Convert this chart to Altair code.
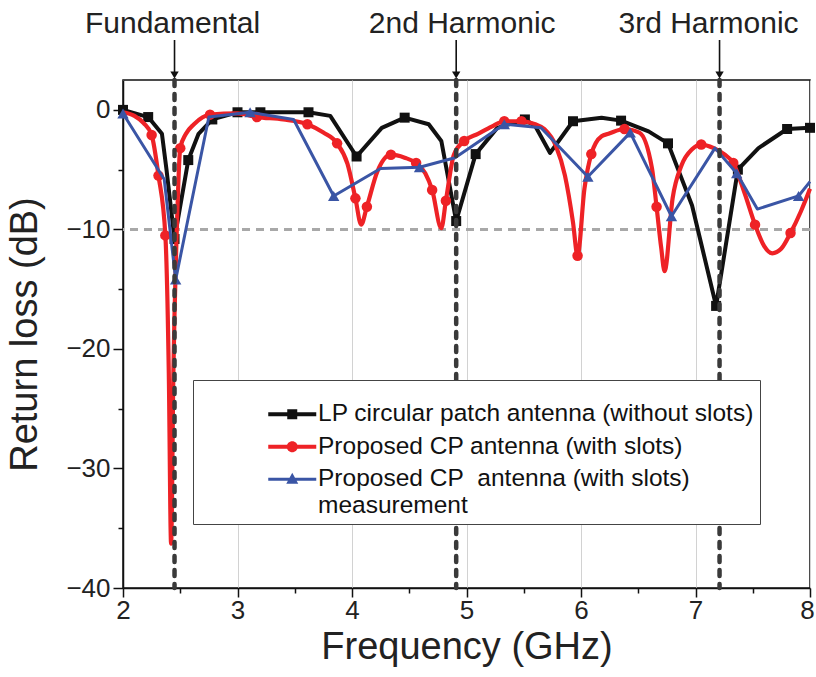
import altair as alt
import pandas as pd

# ---------------- data ----------------
lp_freq = [2.00, 2.22, 2.34, 2.38, 2.45, 2.57, 2.66, 2.78, 3.00, 3.20, 3.62, 3.81, 4.04, 4.26,
           4.46, 4.67, 4.78, 4.91, 5.08, 5.27, 5.51, 5.60, 5.73, 5.93, 6.18, 6.35, 6.59, 6.76,
           6.97, 7.18, 7.37, 7.55, 7.80, 8.00]
lp_rl = [0.0, -0.6, -2.0, -5.0, -10.8, -4.2, -2.0, -0.8, -0.2, -0.2, -0.2, -0.5, -3.9, -1.5,
         -0.65, -1.2, -2.6, -9.3, -3.7, -1.5, -0.8, -1.35, -3.6, -0.95, -0.65, -0.9, -1.8, -2.8,
         -8.0, -16.4, -5.0, -3.2, -1.6, -1.5]
lp_marker = [1, 1, 0, 0, 1, 1, 0, 1, 1, 1, 1, 0, 1, 0, 1, 0, 0, 1, 1, 0, 1, 0, 0, 1, 0, 1, 0, 1,
             0, 1, 1, 0, 1, 1]

cp_freq = [2.00, 2.10, 2.18, 2.25, 2.31, 2.37, 2.40, 2.42, 2.44, 2.47, 2.50, 2.55, 2.62, 2.76,
           3.00, 3.17, 3.40, 3.61, 3.75, 3.87, 3.96, 4.03, 4.08, 4.13, 4.22, 4.34, 4.46, 4.56,
           4.64, 4.70, 4.78, 4.82, 4.89, 4.98, 5.10, 5.22, 5.33, 5.48, 5.60, 5.68, 5.78, 5.86,
           5.93, 5.97, 6.03, 6.09, 6.18, 6.24, 6.38, 6.51, 6.62, 6.66, 6.70, 6.73, 6.80, 6.88,
           6.97, 7.05, 7.16, 7.25, 7.33, 7.43, 7.52, 7.60, 7.67, 7.75, 7.83, 7.92, 8.00]
cp_rl = [-0.2, -0.5, -1.1, -2.1, -5.5, -10.5, -22.0, -36.3, -22.0, -10.0, -3.2, -2.0, -1.2, -0.4,
         -0.3, -0.6, -0.8, -1.2, -1.9, -2.8, -4.5, -7.4, -9.6, -8.1, -5.2, -3.75, -4.0, -4.45,
         -5.3, -6.7, -9.9, -7.6, -3.75, -2.6, -2.0, -1.4, -0.95, -0.95, -1.2, -1.6, -3.0, -5.5,
         -9.4, -12.2, -6.6, -3.7, -2.2, -2.0, -1.6, -1.9, -4.9, -8.1, -11.5, -13.5, -7.4, -4.6,
         -3.3, -2.9, -3.2, -3.7, -4.45, -7.0, -9.6, -11.4, -12.0, -11.6, -10.3, -8.5, -6.6]
cp_marker = [0, 0, 0, 1, 1, 1, 0, 0, 0, 0, 1, 0, 0, 1,
             0, 1, 0, 1, 0, 1, 0, 1, 0, 1, 0, 1, 0, 1,
             0, 1, 0, 1, 0, 1, 0, 0, 1, 1, 0, 0, 0, 0,
             0, 1, 0, 1, 0, 0, 1, 0, 0, 1, 0, 0, 0, 0,
             0, 1, 0, 0, 1, 0, 1, 0, 0, 0, 1, 0, 0]

ms_freq = [2.00, 2.36, 2.46, 2.75, 3.11, 3.49, 3.84, 4.25, 4.59, 4.90, 5.33, 5.65, 6.06, 6.43,
           6.79, 7.17, 7.36, 7.54, 7.90, 8.00]
ms_rl = [-0.3, -5.8, -14.2, -0.6, -0.2, -0.8, -7.2, -4.9, -4.8, -4.0, -1.2, -1.5, -5.6, -1.9,
         -8.9, -3.2, -5.3, -8.3, -7.2, -6.0]
ms_marker = [1, 0, 1, 0, 1, 0, 1, 0, 1, 0, 1, 0, 1, 1, 1, 0, 1, 0, 1, 0]

series_names = ["LP circular patch antenna (without slots)",
                "Proposed CP antenna (with slots)",
                "Proposed CP\u00a0 antenna (with slots)|measurement"]
series_colors = ["#111111", "#ee2226", "#3a55a5"]
series_shapes = ["square", "circle", "triangle-up"]

harm_freq = [2.45, 4.91, 7.21]
harm_labels = ["Fundamental", "2nd Harmonic", "3rd Harmonic"]

x_ticks = [2.0, 2.5, 3.0, 3.5, 4.0, 4.5, 5.0, 5.5, 6.0, 6.5, 7.0, 7.5, 8.0]
y_ticks = [-40, -35, -30, -25, -20, -15, -10, -5, 0]

# ---------------- tables ----------------
frames = []
for name, fr, rl, mk in zip(series_names, [lp_freq, cp_freq, ms_freq],
                            [lp_rl, cp_rl, ms_rl], [lp_marker, cp_marker, ms_marker]):
    frames.append(pd.DataFrame({"series": name, "freq": fr, "rl": rl, "marker": mk}))
df = pd.concat(frames, ignore_index=True)
harm_df = pd.DataFrame({"freq": harm_freq, "label": harm_labels})

W, H = 687, 508
FONT = "Liberation Sans"

xs = alt.Scale(domain=[2, 8], nice=False, zero=False)
ys = alt.Scale(domain=[-40, 2.5], nice=False, zero=False)

x_axis = alt.Axis(
    values=x_ticks, format=".0f", title="Frequency (GHz)",
    labelExpr="datum.value % 1 === 0 ? datum.label : ''",
    tickSize={"condition": {"test": "datum.value % 1 === 0", "value": 9}, "value": 5},
    gridOpacity={"condition": {"test": "datum.value % 1 === 0", "value": 1}, "value": 0},
    labelOffset={"condition": {"test": "datum.value === 8", "value": -3}, "value": 0},
    labelFlush=False, labelOverlap=False, labelPadding=0, titlePadding=5,
)
y_axis = alt.Axis(
    values=y_ticks, format=".0f", title="Return loss (dB)",
    labelExpr="datum.value % 10 === 0 ? datum.label : ''",
    tickSize={"condition": {"test": "datum.value % 10 === 0", "value": 10}, "value": 5},
    gridOpacity={"condition": {"test": "datum.value % 10 === 0", "value": 1}, "value": 0},
    labelFlush=False, labelOverlap=False, labelPadding=3, titlePadding=21,
)

X = alt.X("freq:Q", scale=xs, axis=x_axis)
Y = alt.Y("rl:Q", scale=ys, axis=y_axis)

base = alt.Chart(df)
layers = []

# -10 dB reference line
layers.append(alt.Chart(df).mark_rule(color="#a8a8a8", strokeWidth=2, strokeDash=[8, 6])
              .encode(y=alt.datum(-10)))

widths = [4.0, 4.2, 3.0]
interps = ["linear", "monotone", "linear"]
sizes = [100, 110, 130]
for name, col, shp, w, itp, sz in zip(series_names, series_colors, series_shapes,
                                      widths, interps, sizes):
    sub = base.transform_filter(alt.datum.series == name)
    layers.append(sub.mark_line(color=col, strokeWidth=w, interpolate=itp,
                                strokeJoin="round").encode(x=X, y=Y, order="freq:Q"))
    layers.append(sub.transform_filter(alt.datum.marker == 1)
                  .mark_point(shape=shp, filled=True, size=sz, color=col, opacity=1)
                  .encode(x=X, y=Y))

# harmonic dashed markers
hbase = alt.Chart(harm_df)
layers.append(hbase.mark_rule(color="#3a3a3a", strokeWidth=4.5, strokeDash=[6, 8],
                              strokeCap="round")
              .encode(x=alt.X("freq:Q", scale=xs), y=alt.datum(2.5), y2=alt.datum(-40)))
# arrows and labels above the plot
layers.append(hbase.mark_rule(color="#111", strokeWidth=1.6)
              .encode(x=alt.X("freq:Q", scale=xs), y=alt.value(-40), y2=alt.value(-8)))
layers.append(hbase.mark_point(shape="triangle-down", filled=True, size=70, color="#111",
                               opacity=1)
              .encode(x=alt.X("freq:Q", scale=xs), y=alt.value(-5)))
for lab, dx in zip(harm_labels, [-2, 6, -11]):
    layers.append(hbase.transform_filter(alt.datum.label == lab)
                  .mark_text(font=FONT, fontSize=30, color="#222", baseline="alphabetic",
                             align="center", dx=dx)
                  .encode(x=alt.X("freq:Q", scale=xs), y=alt.value(-47), text="label:N"))


# legend (built-in), symbols = line + marker drawn as custom paths
def sym_path(marker, half_t):
    def p(x, y):
        return f"{x:.3f},{y:.3f}"
    line = f"M{p(-2.4, -half_t)}L{p(2.4, -half_t)}L{p(2.4, half_t)}L{p(-2.4, half_t)}Z"
    if marker == "square":
        m = f"M{p(-0.5, -0.5)}L{p(0.5, -0.5)}L{p(0.5, 0.5)}L{p(-0.5, 0.5)}Z"
    elif marker == "circle":
        m = (f"M{p(-0.55, 0)}A0.55,0.55 0 1 1 {p(0.55, 0)}"
             f"A0.55,0.55 0 1 1 {p(-0.55, 0)}Z")
    else:
        m = f"M{p(0, -0.65)}L{p(0.6, 0.45)}L{p(-0.6, 0.45)}Z"
    return line + m


legend_paths = [sym_path("square", 0.19), sym_path("circle", 0.2),
                sym_path("triangle-up", 0.15)]

legend = alt.Legend(
    orient="none", legendX=70, legendY=300, direction="vertical",
    title=" ", titleFontSize=14, titlePadding=2,
    strokeColor="#444", fillColor="white", padding=6, cornerRadius=0,
    labelFont=FONT, labelFontSize=24.5, labelColor="#111", labelLimit=700,
    labelOffset=13.5, symbolOffset=81, symbolSize=400, symbolStrokeWidth=0,
    symbolOpacity=1, rowPadding=7.5,
    labelExpr="indexof(datum.label, '|') >= 0 ? split(datum.label, '|') : datum.label",
)
color_scale = alt.Scale(domain=series_names, range=series_colors)
shape_scale = alt.Scale(domain=series_names, range=legend_paths)
layers.append(base.transform_filter("false")
              .mark_point(filled=True, opacity=1, size=400)
              .encode(x=X, y=Y,
                      color=alt.Color("series:N", scale=color_scale, legend=legend),
                      shape=alt.Shape("series:N", scale=shape_scale, legend=legend)))

chart = (
    alt.layer(*layers)
    .properties(width=W, height=H,
                padding={"left": 123, "top": 80, "right": 6, "bottom": 89},
                autosize=alt.AutoSizeParams(type="none"))
    .configure(font=FONT)
    .configure_view(stroke="#111", strokeWidth=1.5)
    .configure_axis(
        domainColor="#111", domainWidth=1.5, tickColor="#111", tickWidth=1.5,
        labelFont=FONT, labelFontSize=26, labelColor="#222",
        titleFont=FONT, titleFontSize=38, titleFontWeight="normal", titleColor="#222",
        gridColor="#d2d2d2", gridWidth=1,
    )
)

chart.save("out.html", embed_options={"renderer": "svg", "actions": False})
